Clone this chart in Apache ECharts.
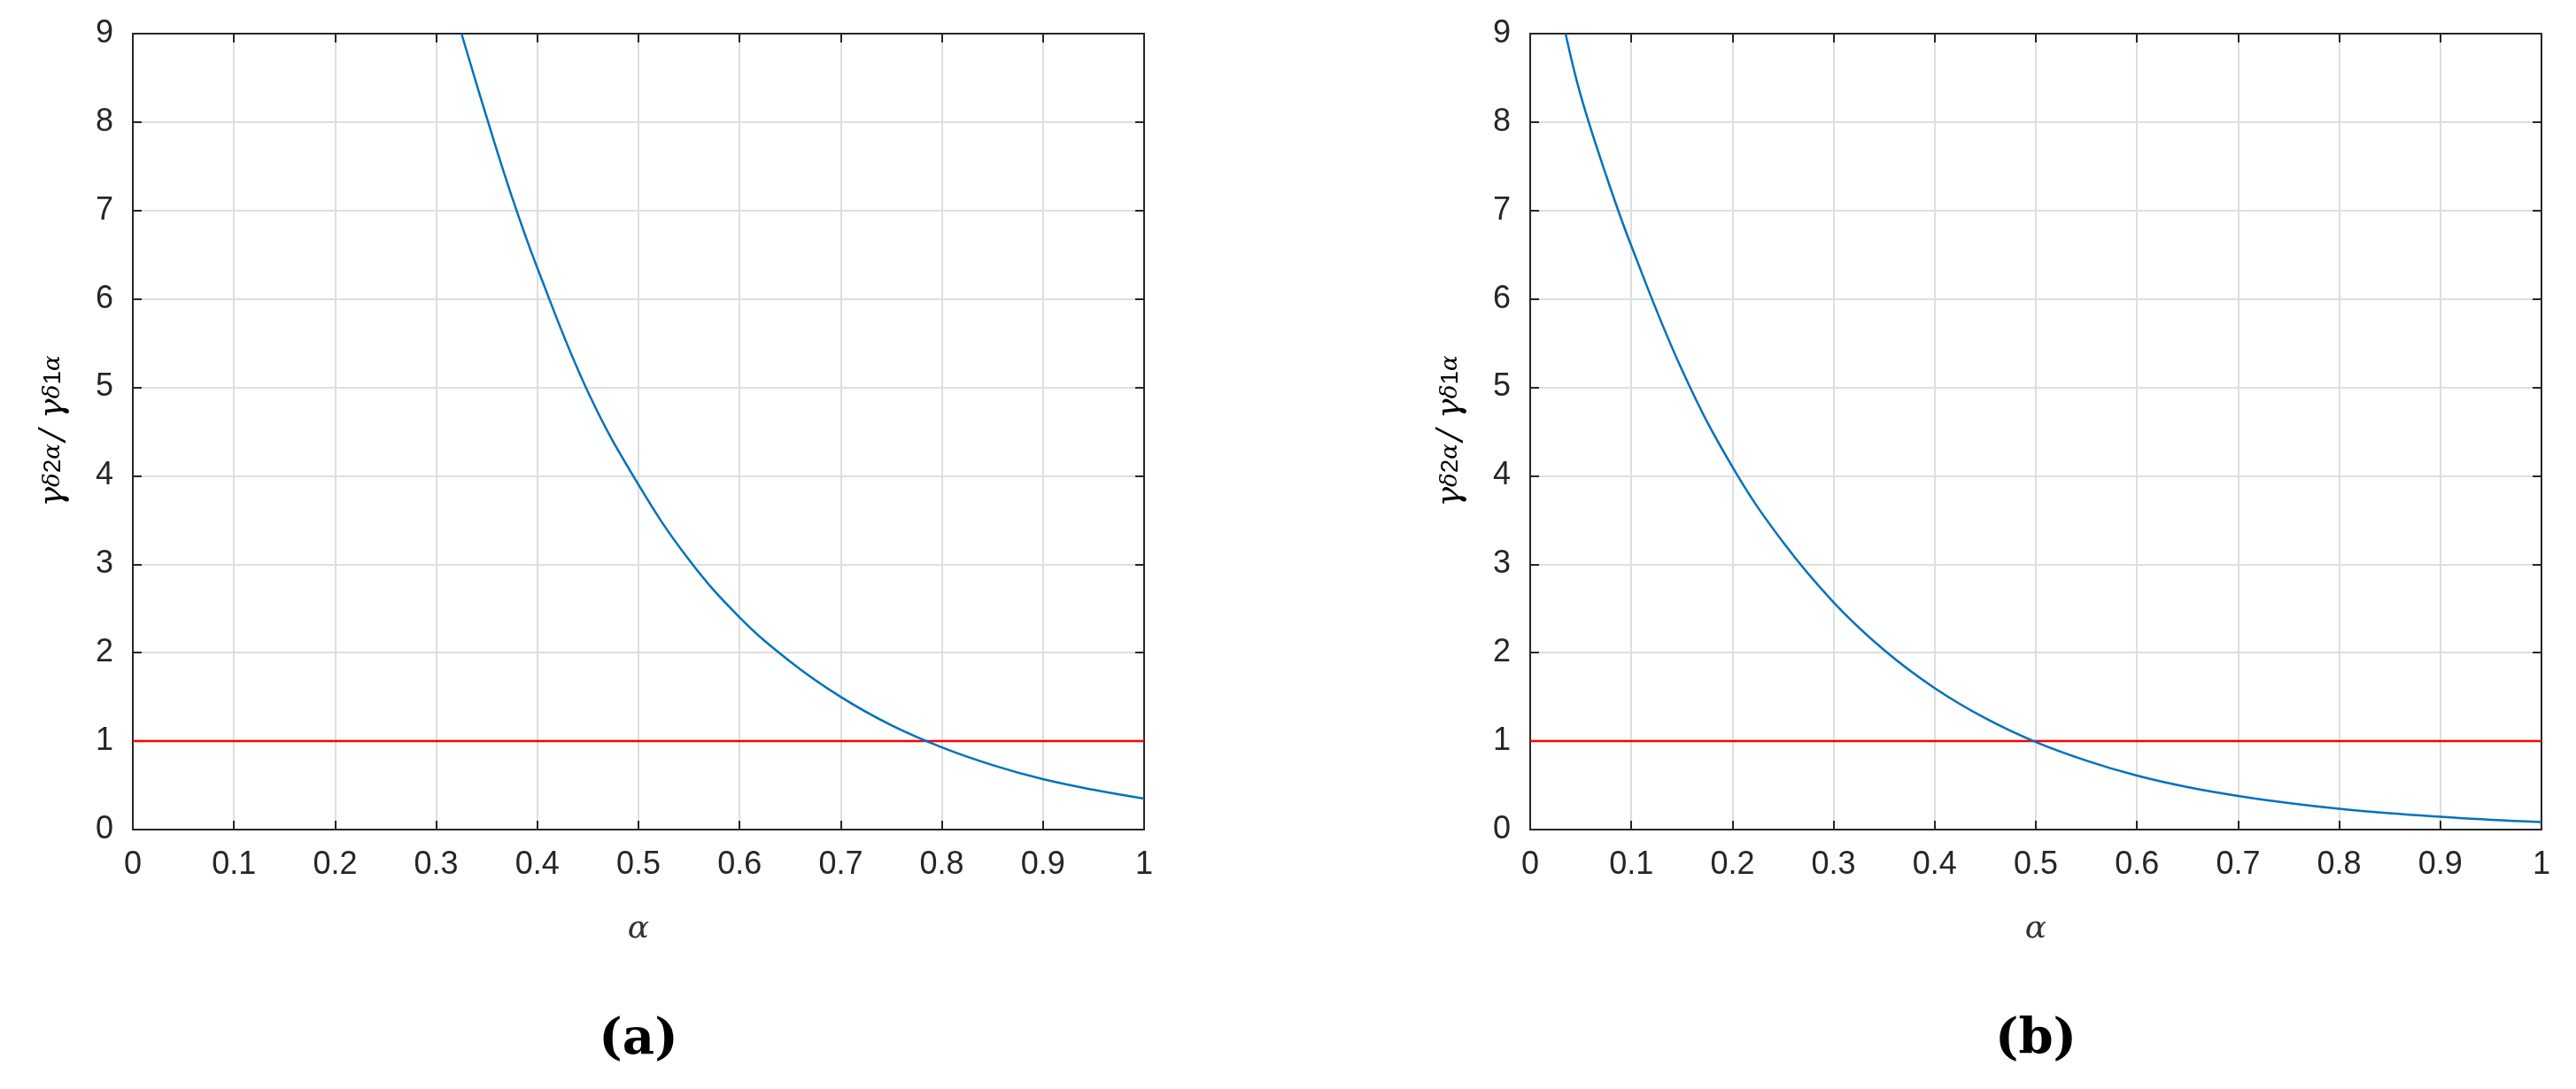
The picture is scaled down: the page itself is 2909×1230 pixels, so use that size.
<!DOCTYPE html>
<html>
<head>
<meta charset="utf-8">
<script src="https://cdn.jsdelivr.net/npm/echarts@6/dist/echarts.min.js"></script>
<style>
  html, body { margin: 0; padding: 0; background: #fff; }
  #chart { width: 2909px; height: 1230px; }
</style>
</head>
<body>
<div id="chart"></div>
<script>
// 读图估计的数据
const xTicks = [0, 0.1, 0.2, 0.3, 0.4, 0.5, 0.6, 0.7, 0.8, 0.9, 1]
const yTicks = [0, 1, 2, 3, 4, 5, 6, 7, 8, 9]
const curveA = [
  [0.325, 9], [0.35, 8.05], [0.375, 7.15], [0.4, 6.35], [0.45, 4.95], [0.5, 3.9], [0.55, 3.05],
  [0.6, 2.4], [0.65, 1.9], [0.7, 1.5], [0.75, 1.18], [0.8, 0.93], [0.85, 0.73],
  [0.9, 0.57], [0.95, 0.45], [1, 0.35]
]
const curveB = [
  [0.035, 9], [0.05, 8.3], [0.075, 7.4], [0.1, 6.6], [0.15, 5.2], [0.2, 4.1], [0.25, 3.25],
  [0.3, 2.57], [0.35, 2.03], [0.4, 1.6], [0.45, 1.26], [0.5, 0.99], [0.55, 0.78],
  [0.6, 0.61], [0.65, 0.48], [0.7, 0.38], [0.75, 0.3], [0.8, 0.235], [0.85, 0.185],
  [0.9, 0.145], [0.95, 0.11], [1, 0.085]
]
const refLine = [[0, 1], [1, 1]]
const panelLabels = ['a', 'b']

const axisColor = '#262626'
const grids = [
  { left: 150, top: 38, width: 1142, height: 899 },
  { left: 1728, top: 38, width: 1142, height: 899 }
]

const xAxes = []
const yAxes = []
grids.forEach((g, i) => {
  // 主坐标轴
  xAxes.push({
    gridIndex: i, type: 'value', min: 0, max: 1, interval: 0.1,
    name: 'α', nameLocation: 'middle', nameGap: 95,
    nameTextStyle: { fontFamily: 'DejaVu Serif', fontStyle: 'italic', fontSize: 36, color: '#333' },
    axisLine: { show: true, lineStyle: { color: axisColor, width: 2 } },
    axisTick: { show: true, inside: true, length: 10, lineStyle: { color: axisColor, width: 2 } },
    axisLabel: { color: axisColor, fontSize: 36, fontFamily: 'Liberation Sans', margin: 22,
      formatter: v => String(Math.round(v * 10) / 10) },
    splitLine: { show: true, lineStyle: { color: '#dedede', width: 2 } }
  })
  yAxes.push({
    gridIndex: i, type: 'value', min: 0, max: 9, interval: 1,
    axisLine: { show: true, lineStyle: { color: axisColor, width: 2 } },
    axisTick: { show: true, inside: true, length: 10, lineStyle: { color: axisColor, width: 2 } },
    axisLabel: { color: axisColor, fontSize: 36, fontFamily: 'Liberation Sans', margin: 22 },
    splitLine: { show: true, lineStyle: { color: '#dedede', width: 2 } }
  })
  // 上、右边框
  xAxes.push({
    gridIndex: i, type: 'value', min: 0, max: 1, interval: 0.1, position: 'top',
    axisLine: { show: true, onZero: false, lineStyle: { color: axisColor, width: 2 } },
    axisTick: { show: true, inside: true, length: 10, lineStyle: { color: axisColor, width: 2 } },
    axisLabel: { show: false }, splitLine: { show: false }
  })
  yAxes.push({
    gridIndex: i, type: 'value', min: 0, max: 9, interval: 1, position: 'right',
    axisLine: { show: true, onZero: false, lineStyle: { color: axisColor, width: 2 } },
    axisTick: { show: true, inside: true, length: 10, lineStyle: { color: axisColor, width: 2 } },
    axisLabel: { show: false }, splitLine: { show: false }
  })
})

function lineSeries(i, data, color) {
  return {
    type: 'line', xAxisIndex: i * 2, yAxisIndex: i * 2, data: data,
    showSymbol: false, smooth: 0.4, clip: true,
    lineStyle: { color: color, width: 2.5 }
  }
}

const yNameRich = {
  g: { fontFamily: 'DejaVu Serif', fontStyle: 'italic', fontSize: 38, color: '#333' },
  s: { fontFamily: 'DejaVu Serif', fontStyle: 'italic', fontSize: 26, color: '#333' },
  n: { fontFamily: 'Liberation Sans', fontSize: 28, color: '#333' }
}
const yNameText = '{g|γ}{s|δ}{n|2}{s|α} {g|/ γ}{s|δ}{n|1}{s|α}'

const option = {
  animation: false,
  grid: grids,
  xAxis: xAxes,
  yAxis: yAxes,
  series: [
    lineSeries(0, refLine, '#ff0000'),
    lineSeries(0, curveA, '#0072bd'),
    lineSeries(1, refLine, '#ff0000'),
    lineSeries(1, curveB, '#0072bd')
  ],
  graphic: [
    { type: 'text', x: 60, y: 487, rotation: Math.PI / 2,
      style: { text: yNameText, rich: yNameRich, align: 'center', verticalAlign: 'middle' } },
    { type: 'text', x: 1638, y: 487, rotation: Math.PI / 2,
      style: { text: yNameText, rich: yNameRich, align: 'center', verticalAlign: 'middle' } },
    { type: 'text', x: 721, y: 1175,
      style: { text: '(' + panelLabels[0] + ')', font: 'bold 56px "DejaVu Serif"', fill: '#000', align: 'center', verticalAlign: 'middle' } },
    { type: 'text', x: 2299, y: 1175,
      style: { text: '(' + panelLabels[1] + ')', font: 'bold 56px "DejaVu Serif"', fill: '#000', align: 'center', verticalAlign: 'middle' } }
  ]
}

const myChart = echarts.init(document.getElementById('chart'))
myChart.setOption(option)
</script>
</body>
</html>
